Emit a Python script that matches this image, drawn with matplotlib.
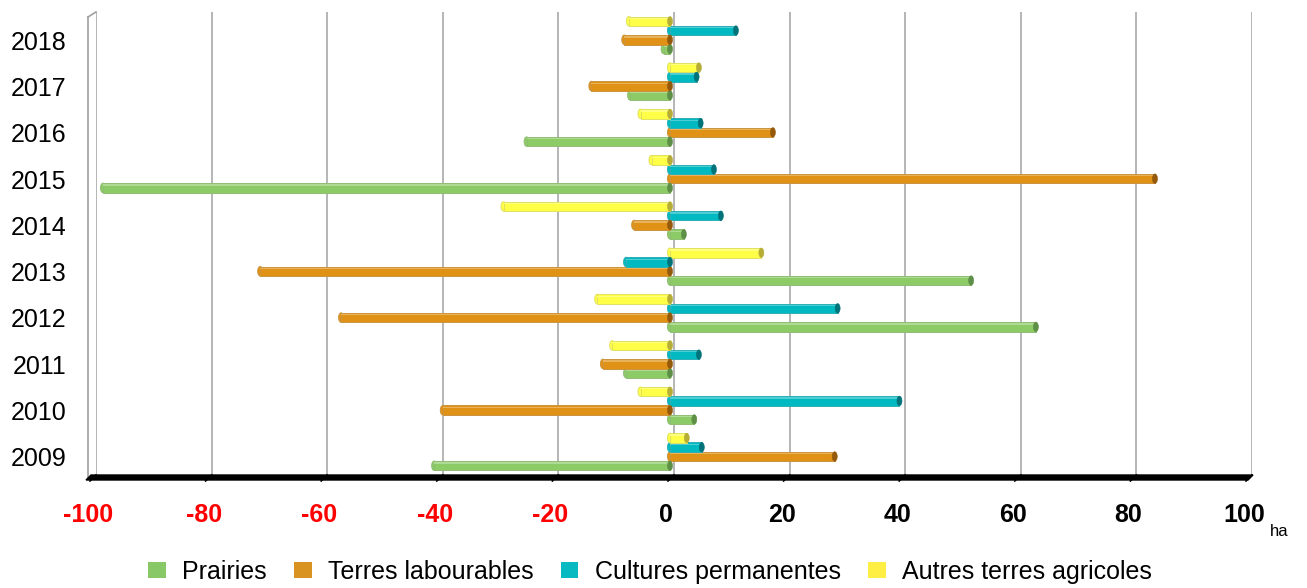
import matplotlib
matplotlib.use("Agg")
import matplotlib.pyplot as plt
from matplotlib.patches import Ellipse, Patch, Polygon
from matplotlib.lines import Line2D
import matplotlib.transforms as mtransforms
import matplotlib.colors as mcolors
import numpy as np

years = ["2009", "2010", "2011", "2012", "2013", "2014", "2015", "2016", "2017", "2018"]
series_names = ["Prairies", "Terres labourables", "Cultures permanentes", "Autres terres agricoles"]
prairies = [-40.8, 4.2, -7.6, 63.3, 52.1, 2.4, -98.1, -24.8, -6.9, -1.1]
terres = [28.5, -39.3, -11.6, -56.9, -70.9, -6.2, 83.9, 17.8, -13.6, -7.9]
cultures = [5.5, 39.7, 5.0, 29.0, -7.6, 8.8, 7.6, 5.3, 4.6, 11.4]
autres = [2.9, -5.1, -10.0, -12.6, 15.8, -28.8, -3.2, -5.1, 5.0, -7.1]
xticks = [-100, -80, -60, -40, -20, 0, 20, 40, 60, 80, 100]

series_values = [prairies, terres, cultures, autres]
base_colors = ["#8ccb66", "#e09216", "#00b9c1", "#ffff48"]
dark_colors = ["#5e8f46", "#94590a", "#00727a", "#b5ad36"]
legend_colors = ["#88c866", "#d99320", "#07b9c0", "#ffef44"]
offsets = [-0.3, -0.1, 0.1, 0.3]
bar_h = 0.205

plt.rcParams['font.family'] = ['Liberation Sans', 'DejaVu Sans']

fig = plt.figure(figsize=(13.07, 5.88), dpi=100)
W, H = 1307, 588
ax = fig.add_axes([96 / W, (H - 475) / H, (1252 - 96) / W, (475 - 12) / H])
ax.set_xlim(-100, 100)
ax.set_ylim(-0.5, 9.5)

# gridlines (back wall)
for xv in xticks:
    ax.axvline(xv, color="#b0b0b0", lw=1.3, zorder=1)

# bars sit slightly in front of the back wall (3D depth offset)
depth = mtransforms.ScaledTranslation(-4 / 100, 0, fig.dpi_scale_trans)
tr = ax.transData + depth

cap_w = 0.87
for vals, base, dark, off in zip(series_values, base_colors, dark_colors, offsets):
    rgb = np.array(mcolors.to_rgb(base))
    light = tuple(rgb * 0.7 + 0.3)
    edge = tuple(rgb * 0.7 + 0.3 * 0.6)
    for j, v in enumerate(vals):
        y = j + off
        lo, hi = min(0, v), max(0, v)
        e1 = Ellipse((lo, y), cap_w, bar_h, facecolor=base, edgecolor=edge,
                     lw=0.7, zorder=2.9, transform=tr)
        ax.add_patch(e1)
        bars = ax.barh(y, v, height=bar_h, color=base, edgecolor=edge, lw=0.7, zorder=3)
        for b in bars:
            b.set_transform(tr)
        bars = ax.barh(y + bar_h * 0.3, v, height=bar_h * 0.14, color=light,
                       edgecolor="none", zorder=3.1)
        for b in bars:
            b.set_transform(tr)
        e2 = Ellipse((hi, y), cap_w, bar_h, facecolor=dark, edgecolor=dark,
                     lw=0.4, zorder=3.2, transform=tr)
        ax.add_patch(e2)

for s in ax.spines.values():
    s.set_visible(False)

ax.set_yticks(range(len(years)))
ax.set_yticklabels(years, fontsize=18)
ax.tick_params(axis="y", length=0, pad=21)
off_tr = mtransforms.ScaledTranslation(0, -5 / 100, fig.dpi_scale_trans)
for lab in ax.get_yticklabels():
    lab.set_transform(lab.get_transform() + off_tr)

ax.set_xticks(xticks)
ax.set_xticklabels([str(v) for v in xticks], fontsize=18, fontweight="bold")
ax.tick_params(axis="x", length=0, pad=20)
xoff_tr = mtransforms.ScaledTranslation(-8 / 100, 0, fig.dpi_scale_trans)
for lab, v in zip(ax.get_xticklabels(), xticks):
    lab.set_color("#ff0000" if v < 0 else "black")
    lab.set_transform(lab.get_transform() + xoff_tr)

# 3D floor and wall decorations (figure pixel coordinates)
def fp(x, y):
    return (x / W, (H - y) / H)

floor = Polygon([fp(91, 475), fp(1253, 475), fp(1248, 480), fp(86, 480)],
                closed=True, facecolor="black", edgecolor="black",
                transform=fig.transFigure, zorder=5)
fig.add_artist(floor)
for xv in xticks:
    px = 96 + (xv + 100) / 200 * (1252 - 96)
    fig.add_artist(Line2D([fp(px, 475)[0], fp(px - 6, 481)[0]],
                          [fp(px, 475)[1], fp(px - 6, 481)[1]],
                          color="black", lw=1.2, transform=fig.transFigure))
fig.add_artist(Line2D([fp(88, 17)[0], fp(88, 477)[0]], [fp(88, 17)[1], fp(88, 477)[1]],
                      color="#a0a0a0", lw=1.2, transform=fig.transFigure))
fig.add_artist(Line2D([fp(88, 17)[0], fp(96, 12)[0]], [fp(88, 17)[1], fp(96, 12)[1]],
                      color="#a0a0a0", lw=1.2, transform=fig.transFigure))

fig.text(1279 / W, (H - 532) / H, "ha", fontsize=12, ha="center", va="center")

handles = [Patch(facecolor=c, edgecolor="none") for c in legend_colors]
fig.legend(handles, series_names, loc="center", bbox_to_anchor=(650 / W, (H - 572) / H),
           ncol=4, frameon=False, fontsize=18, handlelength=0.7, handleheight=0.6,
           handletextpad=0.65, columnspacing=1.1)

fig.savefig("out.png", dpi=100)
